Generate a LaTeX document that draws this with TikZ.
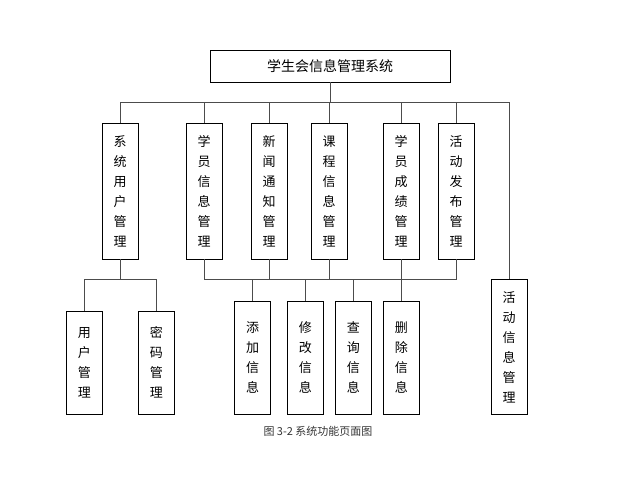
\documentclass[tikz,border=0pt]{standalone}
\usepackage{fontspec}
\newfontfamily\cjk{Noto Sans CJK SC}
\begin{document}
\begin{tikzpicture}[x=1pt,y=-1pt,
  box/.style={draw=black, thick, minimum width=36pt, inner sep=0pt, font=\cjk\fontsize{13}{20}\selectfont, align=center},
  link/.style={draw=gray!60!black, thick}]
\useasboundingbox (0,0) rectangle (631,484);
\node[box, minimum width=240pt, minimum height=32pt, font=\cjk\fontsize{14}{16}\selectfont] (top) at (330,66) {学生会信息管理系统};
\node[box, minimum height=136pt] (b1) at (120,191) {系\\统\\用\\户\\管\\理};
\node[box, minimum height=136pt] (b2) at (204,191) {学\\员\\信\\息\\管\\理};
\node[box, minimum height=136pt] (b3) at (269,191) {新\\闻\\通\\知\\管\\理};
\node[box, minimum height=136pt] (b4) at (329,191) {课\\程\\信\\息\\管\\理};
\node[box, minimum height=136pt] (b5) at (401,191) {学\\员\\成\\绩\\管\\理};
\node[box, minimum height=136pt] (b6) at (456,191) {活\\动\\发\\布\\管\\理};
\node[box, minimum height=135pt] (b7) at (509,347) {活\\动\\信\\息\\管\\理};
\node[box, minimum height=113pt] (c1) at (252.5,357.5) {添\\加\\信\\息};
\node[box, minimum height=113pt] (c2) at (305.3,357.5) {修\\改\\信\\息};
\node[box, minimum height=113pt] (c3) at (353.3,357.5) {查\\询\\信\\息};
\node[box, minimum height=113pt] (c4) at (401.3,357.5) {删\\除\\信\\息};
\node[box, minimum height=103pt] (u1) at (84.3,362.5) {用\\户\\管\\理};
\node[box, minimum height=103pt] (u2) at (156.3,362.5) {密\\码\\管\\理};
\node[font=\cjk\fontsize{11}{13}\selectfont, text=gray!40!black] (cap) at (318,431) {图 3-2 系统功能页面图};
% connectors
\coordinate (busA) at (330,102);
\coordinate (busB) at (330,279);
\coordinate (busC) at (120,279);
\draw[link] (top.south) -- (busA);
\foreach \n in {b1,b2,b3,b4,b5,b6,b7}
  \draw[link] (busA) -| (\n.north);
\foreach \n in {b2,b3,b4,b5,b6}
  \draw[link] (\n.south) |- (busB);
\foreach \n in {c1,c2,c3,c4}
  \draw[link] (busB) -| (\n.north);
\draw[link] (b1.south) -- (busC);
\foreach \n in {u1,u2}
  \draw[link] (busC) -| (\n.north);
\end{tikzpicture}
\end{document}
